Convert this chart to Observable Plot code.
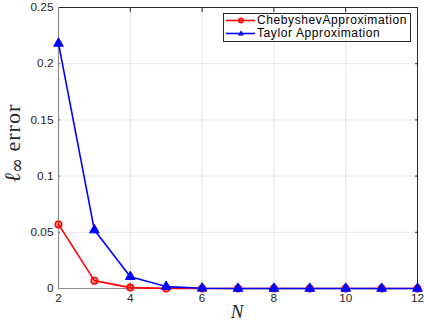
<!DOCTYPE html>
<html><head><meta charset="utf-8">
<script src="https://cdn.jsdelivr.net/npm/d3@7"></script>
<script src="https://cdn.jsdelivr.net/npm/@observablehq/plot@0.6"></script>
<style>
body{margin:0;background:#fff;}
#wrap{position:relative;width:424px;height:324px;}
#legend{position:absolute;left:223px;top:13px;width:186px;height:27px;border:1px solid #262626;background:#fff;font:12px "Liberation Sans",Arial,sans-serif;letter-spacing:0.6px;color:#000;}
#legend div{position:absolute;left:1px;height:13px;line-height:13px;white-space:nowrap;display:flex;align-items:center;}
</style></head><body>
<div id="wrap"></div>
<script>
const N = [2,3,4,5,6,7,8,9,10,11,12];
const chebyshev = [0.057,0.007,0.0008,0.0001,0,0,0,0,0,0,0];
const taylor = [0.218,0.052,0.0105,0.0017,0.0002,0,0,0,0,0,0];
const seriesNames = ["ChebyshevApproximation","Taylor Approximation"];
const xTicks = [2,4,6,8,10,12];
const yTicks = [0,0.05,0.1,0.15,0.2,0.25];

const cheb = N.map((n,i)=>({n, v: chebyshev[i]}));
const tay = N.map((n,i)=>({n, v: taylor[i]}));

const wrap = document.getElementById("wrap");
const full = Plot.plot({
  width: 424, height: 324,
  marginLeft: 58, marginRight: 7, marginTop: 7, marginBottom: 36,
  style: {fontFamily: "Liberation Sans, Arial, sans-serif", fontSize: "11.5px", color: "#262626", background: "#fff"},
  x: {domain: [2,12], label: null},
  y: {domain: [0,0.25], label: null},
  marks: [
    Plot.ruleX(xTicks, {x: d=>d, stroke: "#e6e6e6", strokeOpacity: 1}),
    Plot.ruleY(yTicks, {y: d=>d, stroke: "#e6e6e6", strokeOpacity: 1}),
    Plot.axisX(xTicks, {tickSize: 0, tickPadding: 5, fontSize: 11.8}),
    Plot.axisY(yTicks, {tickSize: 0, tickPadding: 5, fontSize: 11.8, tickFormat: d => String(d)}),
    Plot.ruleX(xTicks, {x: d=>d, y1: 0, y2: 0.0045, stroke: "#262626"}),
    Plot.ruleX(xTicks, {x: d=>d, y1: 0.25, y2: 0.2455, stroke: "#262626"}),
    Plot.ruleY(yTicks, {y: d=>d, x1: 2, x2: 2.05, stroke: "#262626"}),
    Plot.ruleY(yTicks, {y: d=>d, x1: 12, x2: 11.95, stroke: "#262626"}),
    Plot.frame({stroke: "#262626"}),
    Plot.ruleX([2], {stroke: "#8c8c8c", strokeWidth: 1.2}),
    Plot.ruleY([0], {stroke: "#8c8c8c", strokeWidth: 1.2}),
    Plot.line(cheb, {x: "n", y: "v", stroke: "#ff0000", strokeWidth: 1.6}),
    Plot.dot(cheb, {x: "n", y: "v", r: 3.2, stroke: "#ff0000", strokeWidth: 1.6, fill: "#ff0000", fillOpacity: 0.35}),
    Plot.line(tay, {x: "n", y: "v", stroke: "#0000ff", strokeWidth: 1.6}),
    Plot.dot(tay, {x: "n", y: "v", symbol: "triangle", r: 3.6, fill: "#0000ff", stroke: "#0000ff", strokeWidth: 1})
  ]
});
wrap.appendChild(full);
const svg = d3.select(full);
// y label
const yl = svg.append("text")
  .attr("transform", "translate(20,143) rotate(-90)")
  .attr("text-anchor", "middle")
  .attr("font-family", "Liberation Serif, serif")
  .attr("font-size", 22).attr("fill", "#262626");
yl.append("tspan").attr("font-style", "italic").text("ℓ");
yl.append("tspan").attr("font-size", 18).attr("dy", 3).attr("font-family", "DejaVu Serif, serif").text("∞");
yl.append("tspan").attr("dy", -3).attr("letter-spacing", 1).text(" error");
// x label
svg.append("text").attr("x", 237).attr("y", 318).attr("text-anchor", "middle")
  .attr("font-family", "Liberation Serif, serif").attr("font-style", "italic")
  .attr("font-size", 19).attr("fill", "#262626").text("N");

// legend
const leg = document.createElement("div");
leg.id = "legend";
const colors = ["#ff0000", "#0000ff"];
seriesNames.forEach((name, i) => {
  const row = document.createElement("div");
  row.style.top = (i === 0 ? 0 : 13) + "px";
  const marker = i === 0
    ? `<circle cx="16" cy="6.5" r="2.3" fill="rgba(255,0,0,0.35)" stroke="#ff0000" stroke-width="1.4"/>`
    : `<path d="M16,3.3 L19,8.5 L13,8.5 Z" fill="#0000ff"/>`;
  row.innerHTML = `<svg width="30" height="13"><line x1="1" x2="30" y1="6.5" y2="6.5" stroke="${colors[i]}" stroke-width="1.6"/>${marker}</svg><span style="margin-left:2px">${name}</span>`;
  leg.appendChild(row);
});
wrap.appendChild(leg);
</script>
</body></html>
